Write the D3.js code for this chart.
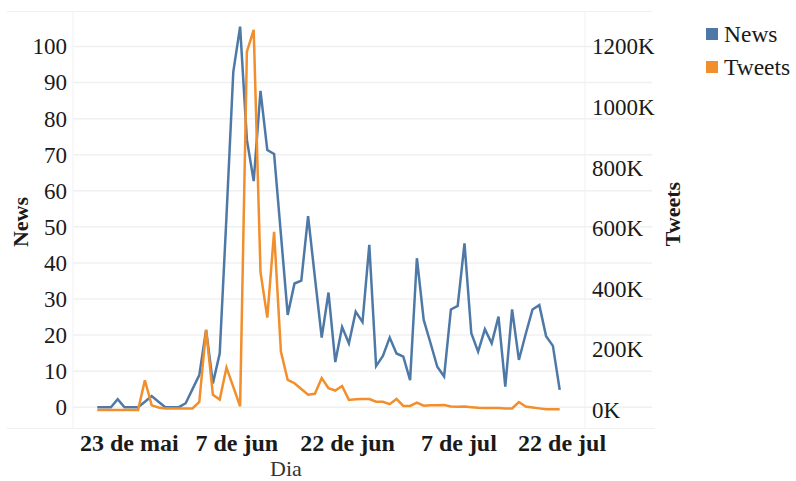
<!DOCTYPE html>
<html>
<head>
<meta charset="utf-8">
<script src="https://cdn.jsdelivr.net/npm/d3@7"></script>
<style>
  html, body { margin: 0; padding: 0; background: #fff; }
  svg { display: block; font-family: "Liberation Serif", "Times New Roman", serif; }
</style>
</head>
<body>
<svg id="chart" width="796" height="481"></svg>
<script>
// ---- Data (one value per day, in order) ----
const news = [0, 0, 0, 2.2, 0, 0, 0, 1.5, 3.1, 1.5,
  0, 0, 0, 1.1, 5, 8.9, 21.4, 6.6, 14.9, 53,
  93, 105.5, 74.1, 62.7, 87.7, 71.3, 70.2, 48, 25.6, 34.3,
  35.1, 53, 36, 19.3, 31.8, 12.5, 22.2, 17.7, 26.5, 23.6,
  45, 11.4, 14.2, 19.3, 14.9, 14, 7.5, 41.3, 24.2, 17.8,
  11.2, 8.5, 27.1, 28.1, 45.4, 20.5, 15.4, 21.6, 17.7, 25.1,
  5.7, 27.1, 13.1, 20.3, 27.1, 28.3, 19.7, 17, 4.8];
const tweets = [0, 0, 0, 0, 0, 0, 0, 98000, 15000, 8000,
  5000, 5000, 5000, 5000, 5000, 26000, 264000, 50000, 34000, 140000,
  76000, 12000, 1183000, 1255000, 455000, 305000, 588000, 193000, 99000, 88000,
  69000, 50000, 53000, 105000, 72000, 64000, 79000, 33000, 35000, 36000,
  36000, 27000, 27000, 19000, 36000, 13000, 13000, 24000, 14000, 15000,
  15000, 16000, 11000, 10000, 11000, 9000, 7000, 6000, 6000, 6000,
  5000, 5000, 26000, 11000, 8000, 5000, 2000, 2000, 2000];
const xTickAt = [4.63, 20.44, 36.72, 53.1, 68.28];
const xTickLabels = ["23 de mai", "7 de jun", "22 de jun", "7 de jul", "22 de jul"];
const newsTicks = [0, 10, 20, 30, 40, 50, 60, 70, 80, 90, 100];
const tweetTicks = [0, 200000, 400000, 600000, 800000, 1000000, 1200000];
const seriesNames = ["News", "Tweets"];
const seriesColors = ["#4e79a7", "#f28e2b"];

// ---- Layout ----
const svg = d3.select("#chart");
const pane = { left: 73, right: 585, top: 12, bottom: 428 };
const gridRight = 652;

const x = d3.scaleLinear().domain([0, news.length - 1]).range([97.3, 559.7]);
const yL = d3.scaleLinear().domain([0, 100]).range([407.2, 46.5]);
const yR = d3.scaleLinear().domain([0, 1200000]).range([409.9, 46.5]);

const faint = "#f0f0f0";

// frame lines
svg.append("line").attr("x1", 7).attr("x2", gridRight).attr("y1", 11.5).attr("y2", 11.5)
  .attr("stroke", faint).attr("stroke-width", 1);
svg.append("line").attr("x1", 7).attr("x2", 655).attr("y1", 428.5).attr("y2", 428.5)
  .attr("stroke", faint).attr("stroke-width", 1.2);
svg.append("line").attr("x1", pane.left).attr("x2", pane.left).attr("y1", pane.top).attr("y2", pane.bottom)
  .attr("stroke", faint).attr("stroke-width", 1);
svg.append("line").attr("x1", pane.right).attr("x2", pane.right).attr("y1", pane.top).attr("y2", pane.bottom)
  .attr("stroke", faint).attr("stroke-width", 1);

// gridlines
svg.append("g").selectAll("line").data(newsTicks).join("line")
  .attr("x1", pane.left).attr("x2", gridRight)
  .attr("y1", d => yL(d)).attr("y2", d => yL(d))
  .attr("stroke", faint).attr("stroke-width", 1.5);

// left axis
const axL = svg.append("g").attr("transform", "translate(67,0)")
  .call(d3.axisLeft(yL).tickValues(newsTicks).tickSize(0).tickPadding(0));
axL.select(".domain").remove();
axL.selectAll("text").attr("font-family", "Liberation Serif").attr("font-size", 23).attr("fill", "#1a1a1a");

// right axis
const axR = svg.append("g").attr("transform", "translate(592,0)")
  .call(d3.axisRight(yR).tickValues(tweetTicks).tickSize(0).tickPadding(0)
    .tickFormat(d => (d / 1000) + "K"));
axR.select(".domain").remove();
axR.selectAll("text").attr("font-family", "Liberation Serif").attr("font-size", 23).attr("fill", "#1a1a1a");

// bottom axis
const axB = svg.append("g").attr("transform", "translate(0,434)")
  .call(d3.axisBottom(x).tickValues(xTickAt).tickSize(0).tickPadding(0)
    .tickFormat((d, i) => xTickLabels[i]));
axB.select(".domain").remove();
axB.selectAll("text").attr("font-family", "Liberation Serif").attr("font-size", 24)
  .attr("font-weight", "bold").attr("fill", "#1a1a1a").attr("dy", "0.71em");

// axis titles
svg.append("text").attr("transform", "translate(28,222) rotate(-90)")
  .attr("text-anchor", "middle").attr("font-size", 22).attr("font-weight", "bold").attr("fill", "#1a1a1a")
  .text("News");
svg.append("text").attr("transform", "translate(680,214) rotate(-90)")
  .attr("text-anchor", "middle").attr("font-size", 22).attr("font-weight", "bold").attr("fill", "#1a1a1a")
  .text("Tweets");
svg.append("text").attr("x", 286).attr("y", 476)
  .attr("text-anchor", "middle").attr("font-size", 22).attr("fill", "#333")
  .text("Dia");

// lines
const lineNews = d3.line().x((d, i) => x(i)).y(d => yL(d));
const lineTweets = d3.line().x((d, i) => x(i)).y(d => yR(d));
svg.append("path").datum(news).attr("d", lineNews)
  .attr("fill", "none").attr("stroke", seriesColors[0]).attr("stroke-width", 2.5)
  .attr("stroke-linejoin", "miter");
svg.append("path").datum(tweets).attr("d", lineTweets)
  .attr("fill", "none").attr("stroke", seriesColors[1]).attr("stroke-width", 2.5)
  .attr("stroke-linejoin", "miter");

// legend
const lg = svg.append("g").selectAll("g").data(seriesNames).join("g")
  .attr("transform", (d, i) => `translate(706,${28 + i * 33})`);
lg.append("rect").attr("width", 12).attr("height", 12).attr("fill", (d, i) => seriesColors[i]);
lg.append("text").attr("x", 18).attr("y", 13.5).attr("font-size", 23.5).attr("fill", "#1a1a1a").text(d => d);
</script>
</body>
</html>
